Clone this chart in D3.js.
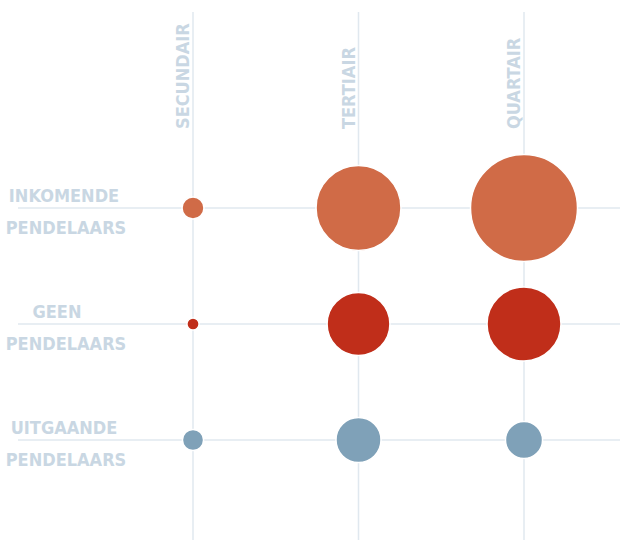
<!DOCTYPE html>
<html>
  <head>
    <meta charset="utf-8">
    <title></title>
  </head>
  <style>
    body{ margin:0; background:#fff; }
    svg{ display:block; }
    .lbl{ font-family:"DejaVu Sans Condensed","DejaVu Sans",sans-serif; font-stretch:condensed; font-weight:bold; fill:#c9d7e3; }
  </style>
  <script src="https://d3js.org/d3.v7.min.js"></script>
  <body>
    <script>
    // sectoren (kolommen) en pendelgroepen (rijen)
    var sectors = ["SECUNDAIR", "TERTIAIR", "QUARTAIR"]
    var groups = ["INKOMENDE", "GEEN", "UITGAANDE"]
    var groupSub = "PENDELAARS"

    // relatieve grootte per groep, volgorde = sectors
    var inkomende = [4.2, 63, 100]
    var geen = [1.3, 34.5, 47.8]
    var uitgaande = [3.9, 17.7, 12]

    var colors = ["#d06b47", "#c02e1a", "#7fa1b8"]

    var width = 620, height = 540

    var svg = d3.select("body").append("svg")
                .attr("width", width)
                .attr("height", height)

    var xScale = d3.scalePoint().domain(sectors).range([193, 524])
    var yScale = d3.scalePoint().domain(groups).range([208, 440])
    var rScale = d3.scaleSqrt().domain([0, 100]).range([0, 53.5])

    var rows = [inkomende, geen, uitgaande]

    //rasterlijnen
    svg.append("g").selectAll("line")
       .data(groups).enter().append("line")
       .attr("x1", 18).attr("x2", width)
       .attr("y1", function(d){ return yScale(d) })
       .attr("y2", function(d){ return yScale(d) })
       .attr("stroke", "#e0e8ef").attr("stroke-width", 1.5)

    svg.append("g").selectAll("line")
       .data(sectors).enter().append("line")
       .attr("x1", function(d){ return xScale(d) })
       .attr("x2", function(d){ return xScale(d) })
       .attr("y1", 12).attr("y2", height)
       .attr("stroke", "#e0e8ef").attr("stroke-width", 1.5)

    //kolomlabels
    svg.append("g").selectAll("text")
       .data(sectors).enter().append("text")
       .attr("class", "lbl")
       .attr("transform", function(d){ return "translate(" + (xScale(d) - 4) + ",129) rotate(-90)" })
       .attr("font-size", "18px")
       .text(function(d){ return d })

    //rijlabels
    var rl = svg.append("g").selectAll("g")
       .data(groups).enter().append("g")
       .attr("transform", function(d){ return "translate(66," + yScale(d) + ")" })
    rl.append("text").attr("class", "lbl")
      .attr("text-anchor", "middle").attr("y", -6)
      .attr("dx", function(d, i){ return i == 1 ? -9 : -2 })
      .attr("font-size", "18px")
      .text(function(d){ return d })
    rl.append("text").attr("class", "lbl")
      .attr("text-anchor", "middle").attr("y", 25.5)
      .attr("font-size", "18px")
      .text(groupSub)

    //bollen
    rows.forEach(function(vals, i){
      svg.append("g").selectAll("circle")
         .data(vals).enter().append("circle")
         .attr("cx", function(d, j){ return xScale(sectors[j]) })
         .attr("cy", yScale(groups[i]))
         .attr("r", function(d){ return rScale(d) })
         .attr("fill", colors[i])
         .attr("stroke", "#fff").attr("stroke-width", 1.5)
    })
    </script>
  </body>
</html>
